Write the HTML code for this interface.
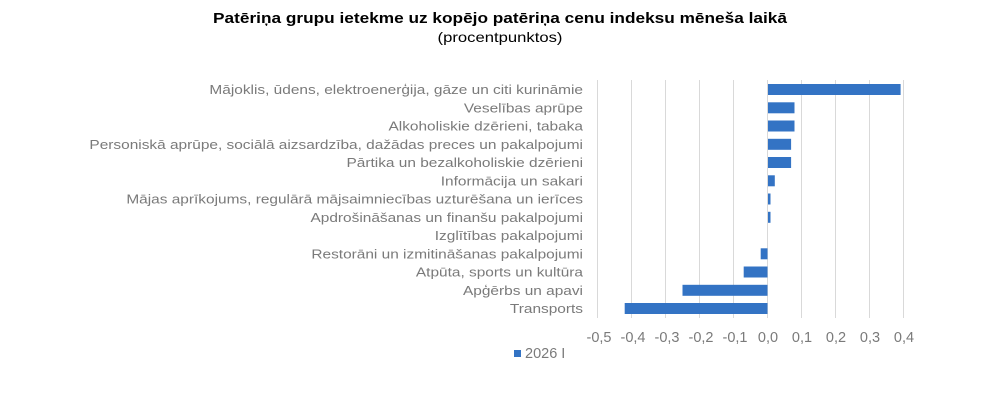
<!DOCTYPE html>
<html><head><meta charset="utf-8"><style>
body{margin:0;background:#fff;}
svg{display:block;font-family:"Liberation Sans",Arial,sans-serif;}
</style></head><body>
<svg width="1000" height="414" viewBox="0 0 1000 414">
<g transform="translate(500,0) scale(1.19,1) translate(-500,0)">
<text x="500" y="23" text-anchor="middle" font-size="14.5" font-weight="bold" fill="#000">Patēriņa grupu ietekme uz kopējo patēriņa cenu indeksu mēneša laikā</text>
<text x="500" y="42" text-anchor="middle" font-size="14" fill="#000">(procentpunktos)</text>
</g>
<g stroke="#d9d9d9" stroke-width="1">
<line x1="597.5" y1="80" x2="597.5" y2="318"/><line x1="631.5" y1="80" x2="631.5" y2="318"/>
<line x1="665.5" y1="80" x2="665.5" y2="318"/><line x1="699.5" y1="80" x2="699.5" y2="318"/>
<line x1="733.5" y1="80" x2="733.5" y2="318"/><line x1="767.5" y1="80" x2="767.5" y2="318"/>
<line x1="801.5" y1="80" x2="801.5" y2="318"/><line x1="835.5" y1="80" x2="835.5" y2="318"/>
<line x1="869.5" y1="80" x2="869.5" y2="318"/><line x1="903.5" y1="80" x2="903.5" y2="318"/>
</g>
<g fill="#3373c4">
<rect x="768" y="84" width="132.6" height="11"/>
<rect x="768" y="102.3" width="26.5" height="11"/>
<rect x="768" y="120.5" width="26.5" height="11"/>
<rect x="768" y="138.8" width="23.1" height="11"/>
<rect x="768" y="157" width="23.1" height="11"/>
<rect x="768" y="175.3" width="6.8" height="11"/>
<rect x="768" y="193.5" width="2.5" height="11"/>
<rect x="768" y="211.8" width="2.5" height="11"/>
<rect x="760.7" y="248.3" width="6.8" height="11"/>
<rect x="743.7" y="266.5" width="23.8" height="11"/>
<rect x="682.5" y="284.8" width="85" height="11"/>
<rect x="624.7" y="303" width="142.8" height="11"/>
</g>
<g font-size="13.3" fill="#7a7a7a" text-anchor="end" transform="translate(583,0) scale(1.16,1) translate(-583,0)">
<text x="583" y="94">Mājoklis, ūdens, elektroenerģija, gāze un citi kurināmie</text>
<text x="583" y="112.3">Veselības aprūpe</text>
<text x="583" y="130.5">Alkoholiskie dzērieni, tabaka</text>
<text x="583" y="148.8">Personiskā aprūpe, sociālā aizsardzība, dažādas preces un pakalpojumi</text>
<text x="583" y="167">Pārtika un bezalkoholiskie dzērieni</text>
<text x="583" y="185.3">Informācija un sakari</text>
<text x="583" y="203.5">Mājas aprīkojums, regulārā mājsaimniecības uzturēšana un ierīces</text>
<text x="583" y="221.8">Apdrošināšanas un finanšu pakalpojumi</text>
<text x="583" y="240">Izglītības pakalpojumi</text>
<text x="583" y="258.3">Restorāni un izmitināšanas pakalpojumi</text>
<text x="583" y="276.5">Atpūta, sports un kultūra</text>
<text x="583" y="294.8">Apģērbs un apavi</text>
<text x="583" y="313">Transports</text>
</g>
<g font-size="14.5" fill="#7a7a7a" text-anchor="middle">
<text x="599" y="342">-0,5</text><text x="633" y="342">-0,4</text><text x="667" y="342">-0,3</text>
<text x="701" y="342">-0,2</text><text x="735" y="342">-0,1</text><text x="768" y="342">0,0</text>
<text x="802" y="342">0,1</text><text x="836" y="342">0,2</text><text x="870" y="342">0,3</text>
<text x="904" y="342">0,4</text>
</g>
<rect x="514" y="350" width="7" height="7" fill="#3373c4"/>
<text x="525" y="358" font-size="14.5" fill="#7a7a7a">2026 I</text>
</svg>
</body></html>
